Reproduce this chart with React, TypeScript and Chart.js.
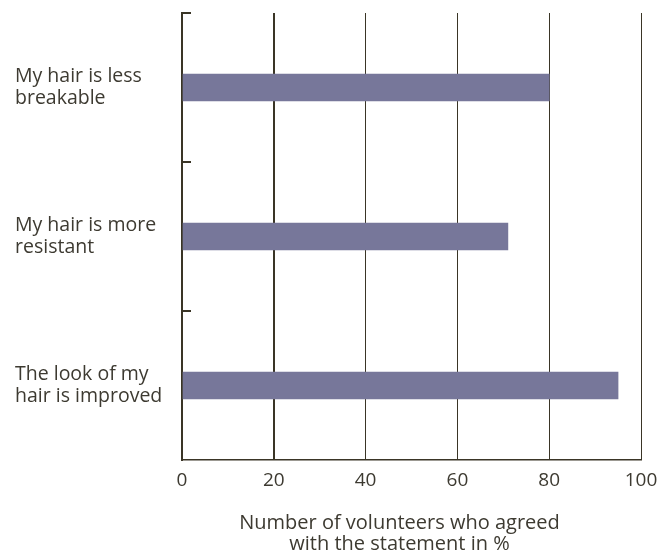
import React, { useEffect, useRef } from "react";
import { Chart, registerables } from "chart.js";

Chart.register(...registerables);

const categories: string[][] = [
  ["My hair is less", "breakable"],
  ["My hair is more", "resistant"],
  ["The look of my", "hair is improved"],
];
const values: number[] = [80, 71, 95];
const xTicks: number[] = [0, 20, 40, 60, 80, 100];
const xTitle: string[] = ["Number of volunteers who agreed", "with the statement in %"];

const LINE = "#3a3526";
const TEXT = "#3d3a31";
const BAR = "#77779a";
const FONT = "'Open Sans', 'Noto Sans', sans-serif";

const innerTicks = {
  id: "innerTicks",
  afterDraw(chart: any) {
    const y = chart.scales.y;
    const area = chart.chartArea;
    const ctx = chart.ctx;
    const n = categories.length;
    const step = y.getPixelForValue(1) - y.getPixelForValue(0);
    ctx.save();
    ctx.strokeStyle = LINE;
    ctx.lineWidth = 2;
    for (let i = 0; i < n; i++) {
      const yy = Math.round(y.getPixelForValue(i) - step / 2);
      ctx.beginPath();
      ctx.moveTo(area.left, yy);
      ctx.lineTo(area.left + 9, yy);
      ctx.stroke();
    }
    ctx.restore();
  },
};

const bottomTitle = {
  id: "bottomTitle",
  afterDraw(chart: any) {
    const area = chart.chartArea;
    const ctx = chart.ctx;
    ctx.save();
    ctx.fillStyle = TEXT;
    ctx.font = `20px ${FONT}`;
    ctx.textAlign = "center";
    ctx.textBaseline = "alphabetic";
    const cx = (area.left + area.right) / 2 - 12;
    xTitle.forEach((t, i) => {
      ctx.fillText(t, cx, area.bottom + 69 + i * 21);
    });
    ctx.restore();
  },
};

export default function App() {
  const ref = useRef<HTMLCanvasElement | null>(null);
  useEffect(() => {
    if (!ref.current) return;
    const chart = new Chart(ref.current, {
      type: "bar",
      data: {
        labels: categories as any,
        datasets: [
          {
            data: values,
            backgroundColor: BAR,
            borderWidth: 0,
            barThickness: 27,
          },
        ],
      },
      options: {
        indexAxis: "y",
        animation: false,
        responsive: true,
        maintainAspectRatio: false,
        layout: { padding: { left: 15, top: 13, right: 27, bottom: 0 } },
        plugins: {
          legend: { display: false },
          tooltip: { enabled: false },
          title: { display: false },
        },
        scales: {
          y: {
            type: "category",
            offset: true,
            grid: { display: false },
            border: { display: true, color: LINE, width: 2 },
            ticks: {
              crossAlign: "far",
              color: TEXT,
              font: { family: FONT, size: 19.5, lineHeight: 1.15 },
              padding: 0,
            },
            afterFit: (s: any) => {
              s.width = 167;
              s.paddingTop = 0;
              s.paddingBottom = 0;
            },
          },
          x: {
            type: "linear",
            min: 0,
            max: 100,
            afterBuildTicks: (s: any) => {
              s.ticks = xTicks.map((v) => ({ value: v }));
            },
            grid: {
              color: LINE,
              lineWidth: (c: any) => (c.index <= 1 ? 2 : 1),
              drawTicks: false,
            },
            border: { display: true, color: LINE, width: 1.5 },
            ticks: {
              color: TEXT,
              font: { family: FONT, size: 19 },
              padding: 9,
            },
            afterFit: (s: any) => {
              s.height = 93;
              s.paddingLeft = 0;
              s.paddingRight = 0;
            },
          },
        },
      },
      plugins: [innerTicks, bottomTitle],
    });
    return () => chart.destroy();
  }, []);
  return (
    <div style={{ position: "absolute", left: 0, top: 0, width: 668, height: 553, background: "#fff" }}>
      <canvas ref={ref} />
    </div>
  );
}
